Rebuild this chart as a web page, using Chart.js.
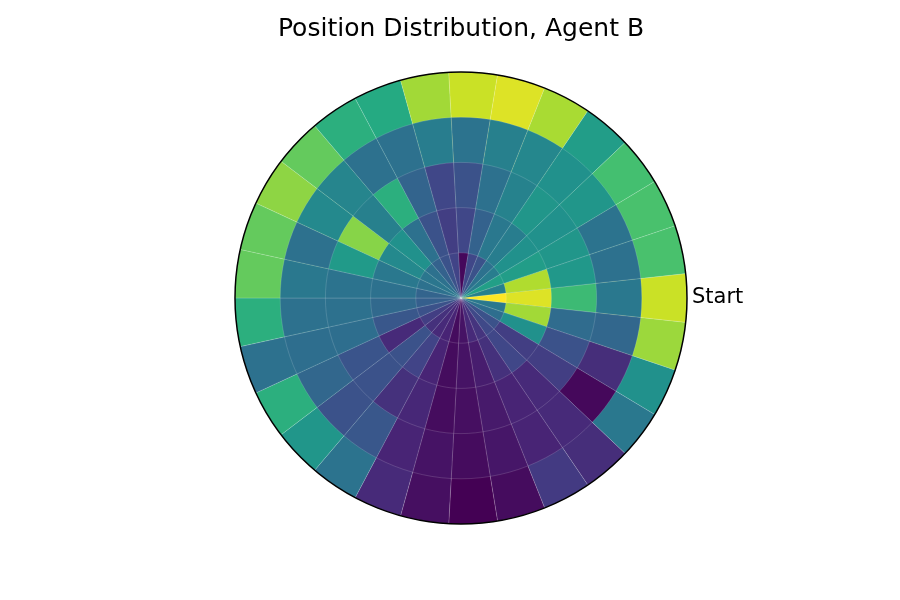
<!DOCTYPE html>
<html>
<head>
<meta charset="utf-8">
<title>Position Distribution, Agent B</title>
<script src="https://cdn.jsdelivr.net/npm/chart.js@4.4.1/dist/chart.umd.min.js"></script>
<style>
  body { margin: 0; background: #fff; }
  #wrap { width: 900px; height: 600px; }
</style>
</head>
<body>
<div id="wrap"><canvas id="myChart" width="900" height="600"></canvas></div>
<script>
// radial bin upper edges (inner -> outer)
var ringEdges = [1, 2, 3, 4, 5];

// density per angular bin, counter-clockwise from "Start" (0 deg), one list per ring
var ring0 = [100, 43, 56, 42, 37, 25, 21, 2, 20, 25, 31, 37, 39, 37, 32, 30, 25, 18, 14, 12, 10, 3, 5, 12, 15, 22, 25, 36, 40];
var ring1 = [95, 88, 55, 50, 42, 40, 31, 21, 18, 25, 37, 50, 47, 40, 37, 34, 27, 12, 25, 20, 10, 3, 5, 8, 14, 21, 18, 50, 86];
var ring2 = [68, 53, 52, 50, 52, 44, 37, 25, 21, 32, 63, 43, 82, 54, 38, 37, 36, 26, 25, 14, 11, 3, 4, 7, 10, 12, 18, 25, 35];
var ring3 = [40, 37, 38, 52, 50, 46, 43, 38, 42, 37, 37, 45, 47, 37, 40, 37, 36, 33, 25, 27, 10, 5, 3, 6, 10, 12, 2, 13, 33];
var ring4 = [92, 71, 71, 70, 55, 87, 95, 92, 86, 61, 63, 76, 83, 76, 76, 63, 37, 63, 52, 38, 12, 4, 0, 3, 17, 13, 40, 50, 85];

var rings = [ring0, ring1, ring2, ring3, ring4];
var nBins = ring0.length;
var binLabels = ring0.map(function (v, k) { return 'bin ' + k; });

var viridis = ["#440154", "#482475", "#414487", "#355f8d", "#2a788e", "#21918c",
               "#22a884", "#44bf70", "#7ad151", "#bddf26", "#fde725"];

function hexToRgb(h) {
    return [parseInt(h.substr(1, 2), 16), parseInt(h.substr(3, 2), 16), parseInt(h.substr(5, 2), 16)];
}

function viridisColor(t) {
    t = Math.max(0, Math.min(1, t));
    var pos = t * (viridis.length - 1);
    var i = Math.min(Math.floor(pos), viridis.length - 2);
    var f = pos - i;
    var a = hexToRgb(viridis[i]), b = hexToRgb(viridis[i + 1]);
    var c = a.map(function (v, j) { return Math.round(v + (b[j] - v) * f); });
    return 'rgb(' + c[0] + ',' + c[1] + ',' + c[2] + ')';
}

var all = [].concat.apply([], rings);
var vmin = Math.min.apply(null, all);
var vmax = Math.max.apply(null, all);

// chart.js goes clockwise, the data goes counter-clockwise
function clockwise(list) {
    var out = [];
    for (var i = 0; i < list.length; i++) {
        out.push(list[(list.length - i) % list.length]);
    }
    return out;
}

var datasets = rings.map(function (vals, j) {
    var cw = clockwise(vals);
    return {
        label: 'ring ' + j,
        data: cw.map(function () { return ringEdges[j]; }),
        backgroundColor: cw.map(function (v) { return viridisColor((v - vmin) / (vmax - vmin)); })
    };
});

var startLabel = {
    id: 'startLabel',
    afterDraw: function (chart) {
        var r = chart.scales.r;
        var p = r.getPointPosition(0, r.drawingArea + 5, Math.PI / nBins);
        var ctx = chart.ctx;
        ctx.save();
        ctx.fillStyle = '#000';
        ctx.font = '21px "DejaVu Sans"';
        ctx.textAlign = 'left';
        ctx.textBaseline = 'middle';
        ctx.fillText('Start', p.x, p.y);
        ctx.restore();
    }
};

var ctx = document.getElementById("myChart");
var myChart = new Chart(ctx, {
    type: 'polarArea',
    data: {
        labels: binLabels,
        datasets: datasets
    },
    options: {
        responsive: false,
        animation: false,
        layout: {
            padding: { left: 22, right: 0, top: 0, bottom: 76 }
        },
        elements: {
            arc: {
                borderWidth: 0.5,
                borderColor: 'rgba(255,255,255,0.3)'
            }
        },
        scales: {
            r: {
                min: 0,
                max: 5,
                startAngle: 90 - 180 / nBins,
                ticks: { display: false, stepSize: 1 },
                angleLines: { display: false },
                pointLabels: { display: false },
                grid: {
                    circular: true,
                    z: 1,
                    lineWidth: 1.5,
                    color: function (c) {
                        return c.tick && c.tick.value === 5 ? '#000' : 'rgba(0,0,0,0)';
                    }
                }
            }
        },
        plugins: {
            legend: { display: false },
            tooltip: { enabled: false },
            title: {
                display: true,
                text: 'Position Distribution, Agent B',
                color: '#000',
                font: { family: 'DejaVu Sans', size: 25, weight: 'normal' },
                padding: { top: 14, bottom: 28 }
            }
        }
    },
    plugins: [startLabel]
});
</script>
</body>
</html>
